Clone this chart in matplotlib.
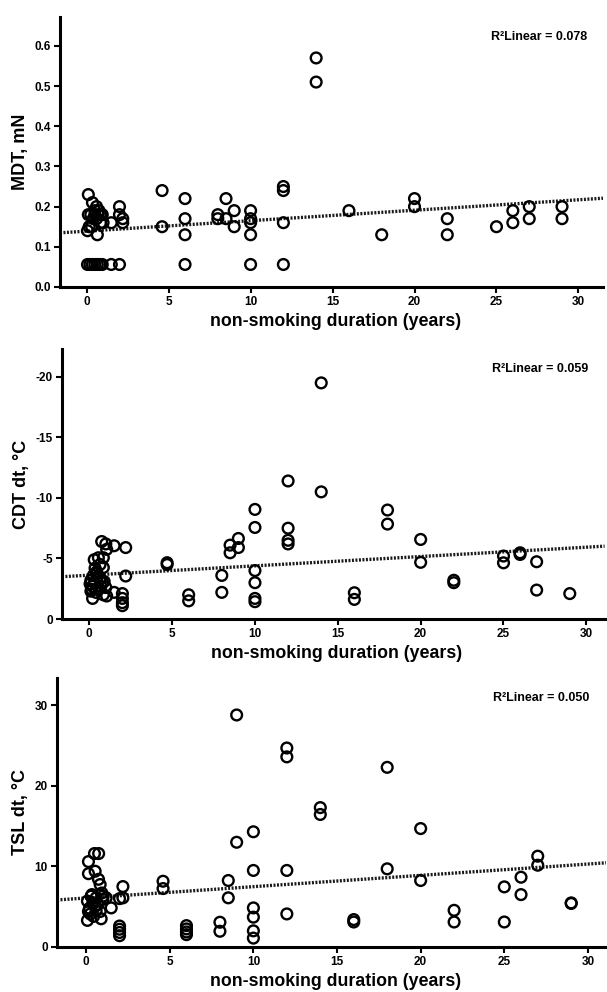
import numpy as np
import matplotlib
matplotlib.use('Agg')
import matplotlib.pyplot as plt

plt.rcParams['font.family'] = ['Liberation Sans', 'DejaVu Sans']
plt.rcParams['font.weight'] = 'bold'

# MDT panel
mdt_x = [0.1, 0.35, 0.6, 0.5, 0.75, 0.85, 0.1, 0.25, 0.5, 0.7, 0.95, 0.4, 0.6, 0.85, 1.0,
         0.15, 0.3, 0.05, 0.65, 1.5, 2.0, 2.0, 2.2, 2.2,
         0.05, 0.2, 0.35, 0.5, 0.65, 0.8, 0.95, 1.5, 2.0,
         4.6, 4.6, 6, 6, 6, 6, 8, 8, 8.5, 8.5, 9, 9, 10, 10, 10, 10, 10, 12, 12, 12, 12,
         14, 14, 16, 18, 20, 20, 22, 22, 25, 26, 26, 27, 27, 29, 29]
mdt_y = [0.23, 0.21, 0.20, 0.19, 0.19, 0.18, 0.18, 0.18, 0.18, 0.18, 0.18, 0.17, 0.17, 0.16, 0.16,
         0.15, 0.15, 0.14, 0.13, 0.16, 0.20, 0.18, 0.17, 0.16,
         0.056, 0.056, 0.056, 0.056, 0.056, 0.056, 0.056, 0.056, 0.056,
         0.24, 0.15, 0.22, 0.17, 0.13, 0.056, 0.18, 0.17, 0.22, 0.17, 0.19, 0.15, 0.19, 0.17, 0.16, 0.13, 0.056,
         0.25, 0.24, 0.16, 0.056,
         0.57, 0.51, 0.19, 0.13, 0.22, 0.20, 0.17, 0.13, 0.15, 0.19, 0.16, 0.20, 0.17, 0.20, 0.17]
mdt_fit = (0.139, 0.0026)

# CDT panel (negative values, axis inverted)
cdt_x = [0.75, 1.0, 1.05, 1.5, 2.2, 0.3, 0.55, 0.85, 0.35, 0.85, 0.45, 0.65, 2.2,
         0.05, 0.15, 0.2, 0.85, 1.05, 1.5, 0.1, 0.3, 0.5, 0.7, 0.9, 0.2, 0.4, 0.6, 0.8, 1.0,
         0.1, 0.25, 0.45, 0.65, 2.0, 2.0, 2.0, 2.0,
         4.7, 4.7, 6, 6, 8, 8, 8.5, 8.5, 9, 9, 10, 10, 10, 10, 10, 10, 12, 12, 12, 12,
         14, 14, 16, 16, 18, 18, 20, 20, 22, 22, 25, 25, 26, 26, 27, 27, 29]
cdt_y = [-6.4, -6.2, -5.75, -6.05, -5.9, -4.9, -5.06, -5.06, -4.2, -4.25, -3.8, -3.35, -3.55,
         -2.9, -2.45, -1.7, -2.0, -1.9, -2.2, -3.2, -3.0, -3.5, -2.7, -3.1, -2.7, -2.2, -2.5, -3.0, -2.6,
         -2.3, -3.6, -3.9, -4.5, -2.1, -1.7, -1.35, -1.1,
         -4.65, -4.5, -2.0, -1.5, -3.6, -2.2, -6.1, -5.47, -6.65, -5.9, -9.05, -7.56, -4.0, -3.0, -1.7, -1.43,
         -11.4, -7.5, -6.5, -6.2,
         -19.5, -10.5, -2.17, -1.62, -9.0, -7.84, -6.57, -4.68, -3.2, -3.0, -5.2, -4.64, -5.47, -5.33,
         -4.73, -2.39, -2.1]
cdt_fit = (-3.62, -0.077)

# TSL panel
tsl_x = [0.5, 0.75, 0.14, 0.14, 0.54, 0.74, 0.84, 0.94, 0.08, 0.3, 0.6, 1.0, 0.14, 0.25,
         0.08, 0.45, 0.84, 0.9, 0.55, 1.2, 0.35, 0.7, 0.2, 0.6, 1.0, 0.4,
         1.5, 2.2, 2.2, 2.0, 2.0, 2.0, 2.0, 2.0,
         4.6, 4.6, 6, 6, 6, 6, 8, 8, 8.5, 8.5, 9, 9, 10, 10, 10, 10, 10, 10, 12, 12, 12, 12,
         14, 14, 16, 16, 18, 18, 20, 20, 22, 22, 25, 25, 26, 26, 27, 27, 29, 29]
tsl_y = [11.6, 11.6, 10.6, 9.1, 9.4, 8.4, 7.75, 6.7, 5.7, 6.3, 6.1, 5.9, 4.4, 4.1,
         3.3, 3.8, 4.4, 3.5, 5.05, 6.1, 6.5, 5.3, 4.8, 4.5, 6.3, 5.5,
         4.85, 7.5, 6.1, 6.0, 2.6, 2.2, 1.8, 1.4,
         8.16, 7.25, 2.65, 2.24, 1.86, 1.53, 3.07, 1.95, 8.25, 6.1, 28.8, 13.0,
         14.3, 9.5, 4.85, 3.7, 2.0, 1.1, 24.7, 23.6, 9.5, 4.1,
         17.3, 16.45, 3.4, 3.1, 22.3, 9.7, 14.7, 8.25, 4.55, 3.1, 7.46, 3.1, 8.66, 6.5,
         11.27, 10.15, 5.47, 5.4]
tsl_fit = (6.08, 0.1405)

panels = [
    dict(x=mdt_x, y=mdt_y, fit=mdt_fit, r2='0.078', ylabel='MDT, mN',
         pos=[0.0988, 0.7107, 0.8946, 0.2722], xlim=(-1.63, 31.5), ylim=(0, 0.672),
         yticks=[0, 0.1, 0.2, 0.3, 0.4, 0.5, 0.6], fmt='{:.1f}'),
    dict(x=cdt_x, y=cdt_y, fit=cdt_fit, r2='0.059', ylabel='CDT dt, °C',
         pos=[0.102, 0.376, 0.894, 0.2722], xlim=(-1.65, 31.1), ylim=(0, -22.3),
         yticks=[0, -5, -10, -15, -20], fmt='{:.0f}'),
    dict(x=tsl_x, y=tsl_y, fit=tsl_fit, r2='0.050', ylabel='TSL dt, °C',
         pos=[0.0939, 0.0454, 0.905, 0.2712], xlim=(-1.74, 31.1), ylim=(0, 33.4),
         yticks=[0, 10, 20, 30], fmt='{:.0f}'),
]

fig = plt.figure(figsize=(6.07, 9.92), dpi=100)
for p in panels:
    ax = fig.add_axes(p['pos'])
    ax.scatter(p['x'], p['y'], s=60, facecolors='none', edgecolors='black', linewidths=1.7, zorder=3)
    xl = np.array(p['xlim'])
    ax.plot(xl, p['fit'][0] + p['fit'][1] * xl, color='#1a1a1a', lw=2.4,
            linestyle=(0, (0.6, 0.45)), zorder=2)
    ax.set_xlim(*p['xlim'])
    ax.set_ylim(*p['ylim'])
    ax.set_xticks([0, 5, 10, 15, 20, 25, 30])
    ax.set_yticks(p['yticks'])
    ax.set_yticklabels([p['fmt'].format(v) for v in p['yticks']])
    for s in ['top', 'right']:
        ax.spines[s].set_visible(False)
    for s in ['left', 'bottom']:
        ax.spines[s].set_linewidth(2.2)
    ax.tick_params(width=1.5, length=4, labelsize=8.5, pad=2.5)
    for lab in ax.get_xticklabels() + ax.get_yticklabels():
        lab.set_fontweight('bold')
    ax.set_xlabel('non-smoking duration (years)', fontsize=12.8, fontweight='bold')
    ax.xaxis.set_label_coords(0.507, -0.097)
    ax.set_ylabel(p['ylabel'], fontsize=13, fontweight='bold', labelpad=4)
    ax.text(0.97, 0.925, 'R²Linear = ' + p['r2'], transform=ax.transAxes,
            ha='right', va='center', fontsize=9, fontweight='bold')

fig.savefig('out.png', dpi=100)
